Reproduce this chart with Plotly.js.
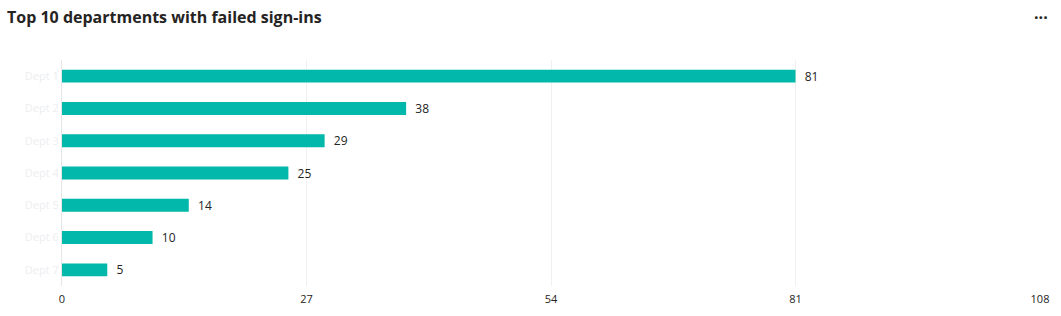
<!DOCTYPE html>
<html>
<head>
<meta charset="utf-8">
<script src="https://cdn.plot.ly/plotly-3.0.1.min.js"></script>
<style>
html,body{margin:0;padding:0;background:#fff;}
#chart{width:1061px;height:316px;}
</style>
</head>
<body>
<div id="chart"></div>
<script>
var departments = ["Dept 1", "Dept 2", "Dept 3", "Dept 4", "Dept 5", "Dept 6", "Dept 7"];
var failedSignIns = [81, 38, 29, 25, 14, 10, 5];
var xTicks = [0, 27, 54, 81, 108];

var trace = {
  type: 'bar',
  orientation: 'h',
  y: departments,
  x: failedSignIns,
  marker: {color: '#01B8AA'},
  text: failedSignIns.map(function (v) { return '\u00a0\u00a0' + v; }),
  textposition: 'outside',
  constraintext: 'none',
  cliponaxis: false,
  textfont: {family: 'Open Sans, sans-serif', size: 12, color: '#252423'},
  hoverinfo: 'x+y'
};

var layout = {
  width: 1061,
  height: 316,
  margin: {l: 62, r: 21, t: 60, b: 30},
  paper_bgcolor: '#ffffff',
  plot_bgcolor: '#ffffff',
  showlegend: false,
  bargap: 0.6,
  title: {
    text: '<b>Top 10 departments with failed sign-ins</b>',
    x: 7 / 1061, xanchor: 'left', xref: 'container',
    y: 1 - 17 / 316, yanchor: 'middle', yref: 'container',
    font: {family: 'Open Sans, sans-serif', size: 16, color: '#252423'}
  },
  xaxis: {
    range: [0, 108],
    tickvals: xTicks,
    ticktext: xTicks.map(String),
    showgrid: true,
    gridcolor: '#f0f0f0',
    gridwidth: 1,
    zeroline: false,
    showline: false,
    ticks: '',
    ticklabelstandoff: 5,
    tickfont: {family: 'Open Sans, sans-serif', size: 11, color: '#252423'},
    fixedrange: true
  },
  yaxis: {
    autorange: 'reversed',
    showgrid: false,
    zeroline: false,
    showline: true,
    linecolor: '#e6e6e6',
    linewidth: 1,
    ticks: '',
    tickfont: {family: 'Open Sans, sans-serif', size: 11, color: '#eceef0'},
    fixedrange: true
  },
  annotations: [{
    text: '<b>···</b>',
    xref: 'paper', yref: 'paper',
    x: 1.0, y: 1.0, xanchor: 'center', yanchor: 'middle',
    yshift: 43, xshift: 1,
    showarrow: false,
    font: {family: 'Open Sans, sans-serif', size: 16, color: '#252423'}
  }]
};

Plotly.newPlot('chart', [trace], layout, {displayModeBar: false, staticPlot: true});
</script>
</body>
</html>
